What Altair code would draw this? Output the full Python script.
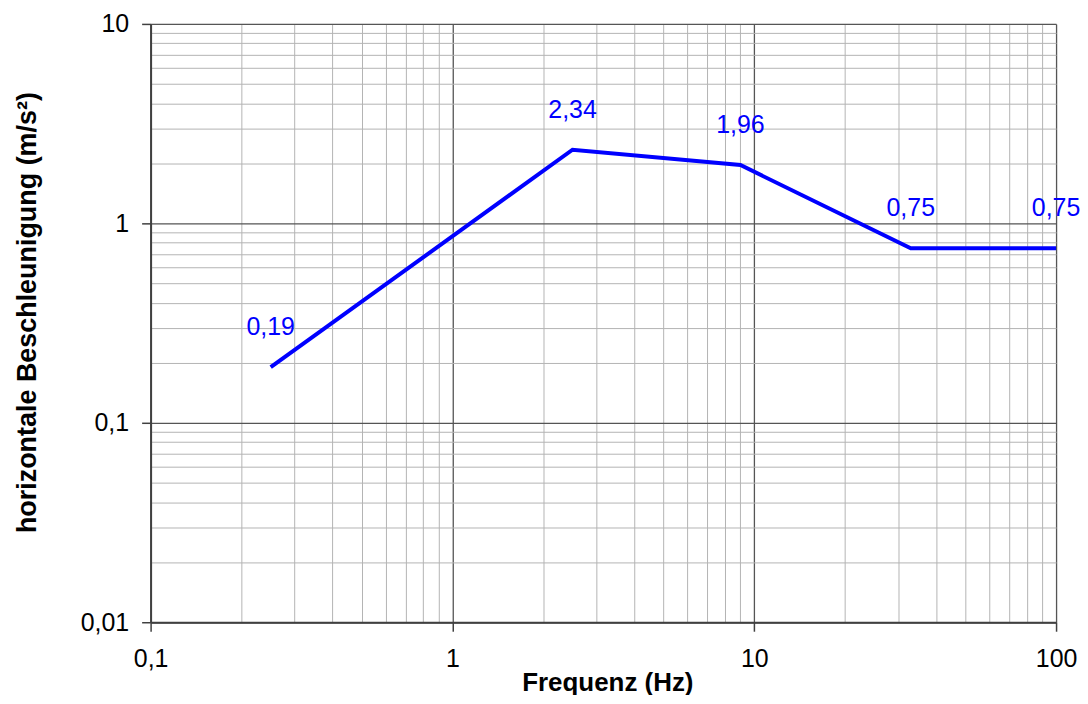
import altair as alt
import pandas as pd

# data
freq = [0.25, 2.5, 9, 33, 100]
accel = [0.19, 2.34, 1.96, 0.75, 0.75]
point_labels = ["0,19", "2,34", "1,96", "0,75", "0,75"]

x_grid = [0.1, 0.2, 0.3, 0.4, 0.5, 0.6, 0.7, 0.8, 0.9,
          1, 2, 3, 4, 5, 6, 7, 8, 9,
          10, 20, 30, 40, 50, 60, 70, 80, 90, 100]
y_grid = [0.01, 0.02, 0.03, 0.04, 0.05, 0.06, 0.07, 0.08, 0.09,
          0.1, 0.2, 0.3, 0.4, 0.5, 0.6, 0.7, 0.8, 0.9,
          1, 2, 3, 4, 5, 6, 7, 8, 9, 10]

df = pd.DataFrame({"f": freq, "a": accel, "lab": point_labels})

FONT = "Liberation Sans"
major_test = "abs(log(datum.value)/LN10 - round(log(datum.value)/LN10)) < 1e-6"
grid_color = {"condition": {"test": major_test, "value": "#555555"}, "value": "#b4b4b4"}
grid_width = {"condition": {"test": major_test, "value": 1.3}, "value": 1}
tick_op = {"condition": {"test": major_test, "value": 1}, "value": 0}
label_expr = "(" + major_test + ") ? replace(format(datum.value, ''), '.', ',') : ''"

x_axis = alt.Axis(
    values=x_grid, grid=True, gridColor=grid_color, gridWidth=grid_width,
    tickOpacity=tick_op, tickSize=9, tickColor="#404040", tickWidth=1.5,
    labelExpr=label_expr, labelFont=FONT, labelFontSize=25, labelColor="black",
    labelPadding=15, labelOverlap=False, labelFlush=False,
    domainColor="#404040", domainWidth=2,
    title="Frequenz (Hz)", titleFont=FONT, titleFontSize=26, titleFontWeight="bold",
    titleColor="black", titleX=458, titleY=68, titleBaseline="alphabetic", titleAlign="center",
)
y_axis = alt.Axis(
    values=y_grid, grid=True, gridColor=grid_color, gridWidth=grid_width,
    tickOpacity=tick_op, tickSize=9, tickColor="#404040", tickWidth=1.5,
    labelExpr=label_expr, labelFont=FONT, labelFontSize=25, labelColor="black",
    labelPadding=13, labelOverlap=False, labelFlush=False,
    domainColor="#404040", domainWidth=2,
    title="horizontale Beschleunigung (m/s²)", titleFont=FONT, titleFontSize=27,
    titleFontWeight="bold", titleColor="black", titleAngle=-90,
    titleX=-115, titleY=289, titleBaseline="alphabetic", titleAlign="center",
)

base = alt.Chart(df).encode(
    x=alt.X("f:Q", scale=alt.Scale(type="log", domain=[0.1, 100], nice=False), axis=x_axis),
    y=alt.Y("a:Q", scale=alt.Scale(type="log", domain=[0.01, 10], nice=False), axis=y_axis),
)

line = base.mark_line(color="#0000ff", strokeWidth=4, clip=False)
text = base.mark_text(color="#0000ff", font=FONT, fontSize=25, dy=-32,
                      baseline="alphabetic", align="center").encode(text="lab:N")

chart = alt.layer(line, text).properties(
    width=908, height=600,
    autosize=alt.AutoSizeParams(type="none"),
    padding={"left": 143, "top": 15, "right": 24, "bottom": 72},
).configure_view(stroke=None).configure(background="white")

chart.save("out.html", embed_options={"renderer": "svg", "actions": False})
